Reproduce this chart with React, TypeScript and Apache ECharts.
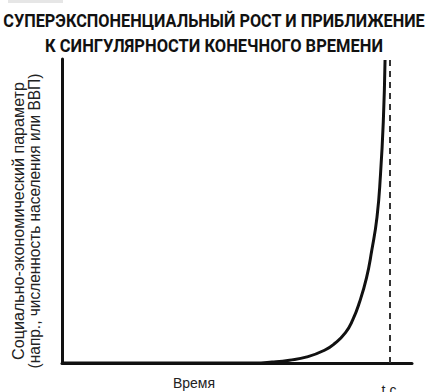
import React, { useEffect, useRef } from "react";
import * as echarts from "echarts";

const titleLines = [
  "СУПЕРЭКСПОНЕНЦИАЛЬНЫЙ РОСТ И ПРИБЛИЖЕНИЕ",
  "К СИНГУЛЯРНОСТИ КОНЕЧНОГО ВРЕМЕНИ",
];
const yNameLines = [
  "Социально-экономический параметр",
  "(напр., численность населения или ВВП)",
];
const xName = "Время";
const tcLabel = "t c";
const tc = 93.7;
const curveX = [0, 55, 60, 65, 70, 75, 78, 81, 83, 85, 87, 88.5, 90, 91, 91.8, 92.3];
const curveY = [0, 0, 0.3, 0.9, 2.0, 4.2, 6.5, 10, 14, 20, 28, 37, 48, 62, 79.4, 99.7];

function measure(text: string, font: string): number {
  const ctx = document.createElement("canvas").getContext("2d")!;
  ctx.font = font;
  return ctx.measureText(text).width;
}

export default function App() {
  const ref = useRef<HTMLDivElement>(null);
  useEffect(() => {
    const chart = echarts.init(ref.current!, null, { renderer: "svg" });
    const font = "'Liberation Sans', Arial, sans-serif";
    const titleFont = "bold 19px Roboto, 'Liberation Sans', sans-serif";
    const titleTargets = [422, 338];
    const yFont = `16px ${font}`;
    const yTargets = [278, 295];
    chart.setOption({
      animation: false,
      backgroundColor: "#fff",
      grid: { left: 62, right: 16, top: 59, bottom: 29 },
      xAxis: {
        type: "value", min: 0, max: 100,
        axisLine: { show: true, lineStyle: { color: "#111", width: 3 } },
        axisTick: { show: false }, axisLabel: { show: false }, splitLine: { show: false },
      },
      yAxis: {
        type: "value", min: 0, max: 100,
        axisLine: { show: true, lineStyle: { color: "#111", width: 3 } },
        axisTick: { show: false }, axisLabel: { show: false }, splitLine: { show: false },
      },
      series: [
        {
          type: "line",
          data: curveX.map((x, i) => [x, curveY[i]]),
          smooth: 0.5,
          symbol: "none",
          lineStyle: { color: "#111", width: 3 },
          markLine: {
            silent: true, symbol: "none",
            label: { show: false },
            lineStyle: { color: "#333", width: 2, type: [6, 5] },
            data: [{ xAxis: tc }],
          },
        },
      ],
      graphic: [
        { type: "rect", shape: { x: 8, y: 0, width: 55, height: 3 }, style: { fill: "#e6e6e6" } },
        ...titleLines.map((t, i) => ({
          type: "text", x: 214, y: 21 + i * 24,
          scaleX: titleTargets[i] / measure(t, titleFont),
          style: {
            text: t, fill: "#111", font: titleFont,
            textAlign: "center", textVerticalAlign: "middle",
          },
        })),
        ...yNameLines.map((t, i) => ({
          type: "text", x: 18 + i * 16, y: 221, rotation: Math.PI / 2,
          scaleX: yTargets[i] / measure(t, yFont),
          style: {
            text: t, fill: "#222", font: yFont,
            textAlign: "center", textVerticalAlign: "middle",
          },
        })),
        {
          type: "text", x: 194, y: 383,
          style: { text: xName, fill: "#222", font: `14px ${font}`, textAlign: "center", textVerticalAlign: "middle" },
        },
        {
          type: "text", x: 389, y: 390,
          style: { text: tcLabel, fill: "#222", font: `14px ${font}`, textAlign: "center", textVerticalAlign: "middle" },
        },
      ],
    });
    return () => chart.dispose();
  }, []);
  return <div ref={ref} style={{ width: 428, height: 392, position: "absolute", left: 0, top: 0 }} />;
}
